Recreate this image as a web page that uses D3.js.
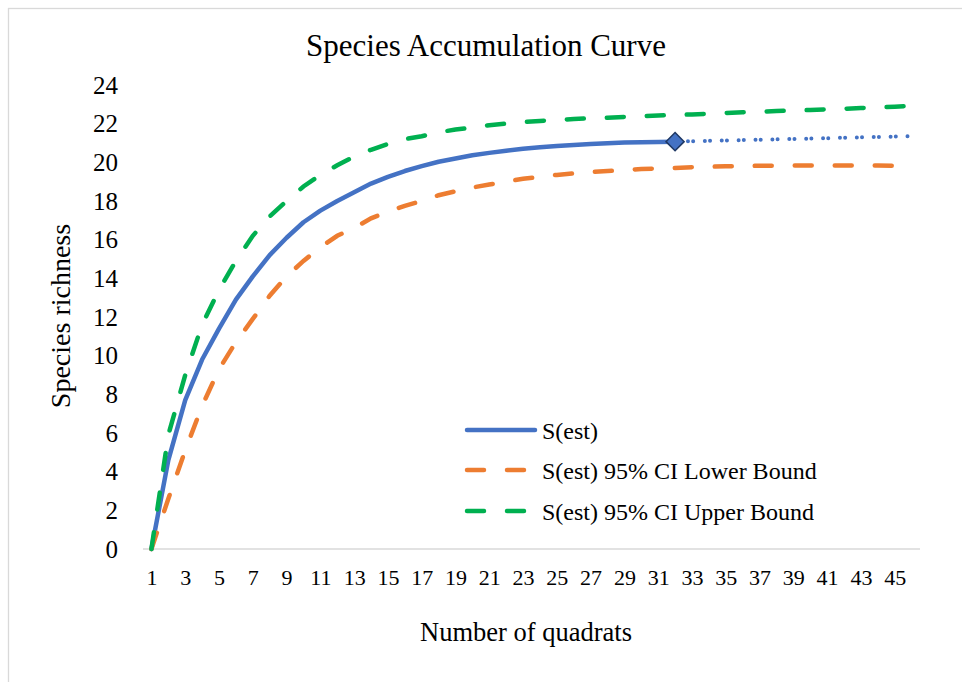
<!DOCTYPE html>
<html>
<head>
<meta charset="utf-8">
<script src="https://cdn.jsdelivr.net/npm/d3@7"></script>
<style>
  body { margin: 0; background: #fff; }
  svg text { font-family: "Liberation Serif", "Times New Roman", serif; fill: #000; }
</style>
</head>
<body>
<div class="container"></div>
<script>
// categories: number of quadrats
var quadrats = d3.range(1, 47);
var xTicks = quadrats.filter(function(d) { return d % 2 === 1; });
var yTicks = [0, 2, 4, 6, 8, 10, 12, 14, 16, 18, 20, 22, 24];

// S(est), observed part (quadrats 1..32)
var sEst = [0, 4.6, 7.7, 9.8, 11.4, 12.9, 14.1, 15.2, 16.1, 16.9, 17.5, 18.0, 18.45, 18.9,
  19.25, 19.55, 19.8, 20.03, 20.2, 20.37, 20.49, 20.6, 20.7, 20.78, 20.85, 20.9, 20.95,
  20.99, 21.02, 21.04, 21.05, 21.07];
// S(est), extrapolated part (quadrats 32..46)
var sEstExtra = [21.07, 21.09, 21.11, 21.13, 21.15, 21.17, 21.19, 21.21, 21.23, 21.25,
  21.27, 21.29, 21.31, 21.33, 21.35];
var lowerCI = [0, 2.6, 5.1, 7.4, 9.3, 10.7, 11.9, 13.1, 14.1, 14.9, 15.6, 16.2, 16.6, 17.1,
  17.45, 17.75, 18.0, 18.3, 18.5, 18.7, 18.85, 19.0, 19.15, 19.25, 19.35, 19.43, 19.5,
  19.55, 19.6, 19.65, 19.68, 19.71, 19.75, 19.77, 19.8, 19.81, 19.82, 19.83, 19.84,
  19.84, 19.84, 19.84, 19.83, 19.83, 19.82, 19.82];
var upperCI = [0, 5.9, 9.0, 11.6, 13.4, 14.9, 16.2, 17.2, 18.0, 18.75, 19.35, 19.85, 20.3,
  20.65, 20.95, 21.2, 21.35, 21.55, 21.7, 21.8, 21.92, 22.0, 22.08, 22.14, 22.19, 22.24,
  22.28, 22.31, 22.35, 22.39, 22.42, 22.45, 22.48, 22.51, 22.55, 22.59, 22.62, 22.65,
  22.68, 22.71, 22.74, 22.77, 22.81, 22.84, 22.88, 22.92];

var seriesNames = ["S(est)", "S(est) 95% CI Lower Bound", "S(est) 95% CI Upper Bound"];
var colors = ["#4472C4", "#ED7D31", "#00B050"];

var width = 962, height = 682;
var plot = {left: 143, right: 920, top: 85, bottom: 549};

var svg = d3.select("div.container").append("svg")
    .attr("width", width)
    .attr("height", height);

// chart border (only top and left edges are visible in the frame)
svg.append("rect")
    .attr("x", 8.5).attr("y", 8.5)
    .attr("width", 1000).attr("height", 1000)
    .attr("fill", "none")
    .attr("stroke", "#d9d9d9")
    .attr("stroke-width", 1.3);

var x = d3.scalePoint()
    .domain(quadrats)
    .range([plot.left, plot.right])
    .padding(0.5);

var y = d3.scaleLinear()
    .domain([0, 24])
    .range([plot.bottom, plot.top]);

// title
svg.append("text")
    .attr("x", 486).attr("y", 56)
    .attr("text-anchor", "middle")
    .style("font-size", "31px")
    .text("Species Accumulation Curve");

// y axis
var yAxis = svg.append("g")
    .attr("transform", "translate(" + plot.left + ",0)")
    .call(d3.axisLeft(y).tickValues(yTicks).tickSize(0).tickPadding(25));
yAxis.select(".domain").remove();
yAxis.selectAll("text")
    .style("font-size", "25px")
    .style("font-family", "'Liberation Serif', 'Times New Roman', serif");

// x axis
var xAxis = svg.append("g")
    .attr("transform", "translate(0," + plot.bottom + ")")
    .call(d3.axisBottom(x).tickValues(xTicks).tickSize(0).tickSizeOuter(0).tickPadding(20));
xAxis.select(".domain")
    .attr("d", "M" + plot.left + ",0H" + plot.right)
    .attr("stroke", "#d9d9d9")
    .attr("stroke-width", 1.3);
xAxis.selectAll("text")
    .style("font-size", "22px")
    .style("font-family", "'Liberation Serif', 'Times New Roman', serif");

// axis titles
svg.append("text")
    .attr("x", 526).attr("y", 641)
    .attr("text-anchor", "middle")
    .style("font-size", "26.5px")
    .text("Number of quadrats");

svg.append("text")
    .attr("transform", "translate(70,316) rotate(-90)")
    .attr("text-anchor", "middle")
    .style("font-size", "28px")
    .text("Species richness");

var line = d3.line()
    .x(function(d) { return x(d.q); })
    .y(function(d) { return y(d.v); });

function toPoints(values, startQ) {
    return values.map(function(v, i) { return {q: startQ + i, v: v}; });
}

// S(est) observed
svg.append("path")
    .datum(toPoints(sEst, 1))
    .attr("d", line)
    .attr("fill", "none")
    .attr("stroke", colors[0])
    .attr("stroke-width", 4.5)
    .attr("stroke-linejoin", "round")
    .attr("stroke-linecap", "round");

// lower bound
svg.append("path")
    .datum(toPoints(lowerCI, 1))
    .attr("d", line)
    .attr("fill", "none")
    .attr("stroke", colors[1])
    .attr("stroke-width", 4.5)
    .attr("stroke-dasharray", "17 23")
    .attr("stroke-linecap", "round");

// upper bound
svg.append("path")
    .datum(toPoints(upperCI, 1))
    .attr("d", line)
    .attr("fill", "none")
    .attr("stroke", colors[2])
    .attr("stroke-width", 4.5)
    .attr("stroke-dasharray", "17 23")
    .attr("stroke-linecap", "round");

// S(est) extrapolated, dotted
var step = x.step();
svg.append("path")
    .datum(toPoints(sEstExtra, 32))
    .attr("d", line)
    .attr("fill", "none")
    .attr("stroke", colors[0])
    .attr("stroke-width", 4)
    .attr("stroke-linecap", "round")
    .attr("stroke-dasharray", "0 5.2 0 " + (step - 5.2))
    .attr("stroke-dashoffset", 4);

// marker at the last observed point
var last = sEst.length;
svg.append("path")
    .attr("d", d3.symbol().type(d3.symbolDiamond2).size(210))
    .attr("transform", "translate(" + x(last) + "," + y(sEst[last - 1]) + ")")
    .attr("fill", colors[0])
    .attr("stroke", "#1F3864")
    .attr("stroke-width", 1.5);

// legend
var legend = svg.append("g");
var legendY = [430, 470, 511];
seriesNames.forEach(function(name, i) {
    legend.append("line")
        .attr("x1", 467).attr("x2", 535)
        .attr("y1", legendY[i]).attr("y2", legendY[i])
        .attr("stroke", colors[i])
        .attr("stroke-width", 4.5)
        .attr("stroke-linecap", "round")
        .attr("stroke-dasharray", i === 0 ? null : "17 23");
    legend.append("text")
        .attr("x", 542).attr("y", legendY[i] + 8.5)
        .style("font-size", "24px")
        .text(name);
});
</script>
</body>
</html>
